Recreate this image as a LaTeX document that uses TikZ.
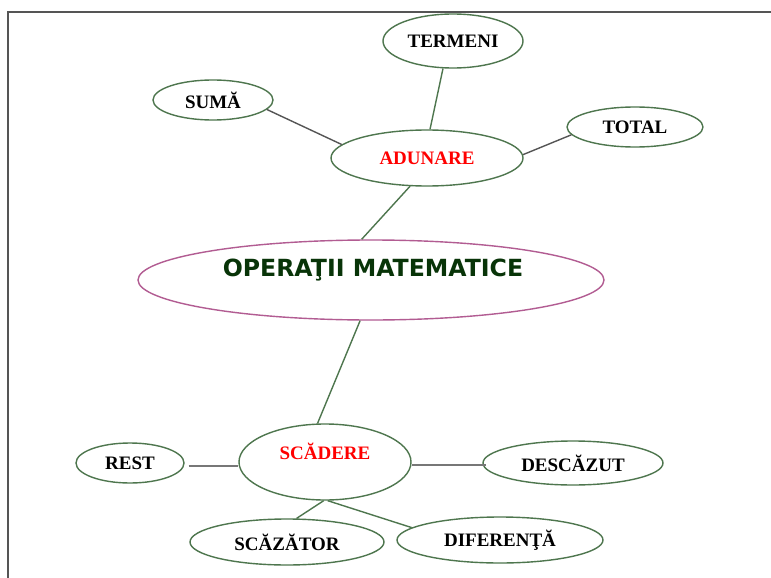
\documentclass[tikz,border=0pt]{standalone}
\usepackage{fontspec}
\setmainfont{Liberation Serif}
\newfontfamily\headfont{DejaVu Sans}
\usetikzlibrary{shapes.geometric}
\definecolor{ringgreen}{RGB}{78,118,78}
\definecolor{linegray}{RGB}{85,85,85}
\definecolor{rootring}{RGB}{178,92,146}
\definecolor{roottext}{RGB}{8,52,8}
\tikzset{
  bubble/.style={ellipse, draw=ringgreen, line width=1.4pt, fill=white, inner sep=0pt,
    font=\bfseries\fontsize{19}{19}\selectfont, text=black},
  rootbubble/.style={ellipse, draw=rootring, line width=1.4pt, fill=white, inner sep=0pt},
  roottitle/.style={font=\headfont\bfseries\fontsize{23.6}{24}\selectfont, text=roottext, inner sep=0pt},
  greenlink/.style={draw=ringgreen, line width=1.4pt},
  graylink/.style={draw=linegray, line width=1.4pt},
  heavylink/.style={draw=linegray!80, line width=2.2pt},
  frameline/.style={draw=linegray, line width=1.6pt}
}
\begin{document}
\begin{tikzpicture}[x=1pt,y=-1pt]
\useasboundingbox (0,0) rectangle (771,578);
\fill[white] (0,0) rectangle (771,578);

% page frame
\coordinate (fa) at (8,578);
\coordinate (fb) at (8,12);
\coordinate (fc) at (771,12);
\draw[frameline] (fa) -- (fb) -- (fc);

% central concept
\node[rootbubble, minimum width=466pt, minimum height=80pt] (root) at (371,280) {};
\node[roottitle] (roottxt) at (373,270) {OPERAŢII MATEMATICE};

% addition branch
\node[bubble, minimum width=192pt, minimum height=56pt] (adunare) at (427,158) {\textcolor{red}{ADUNARE}};
\node[bubble, minimum width=140pt, minimum height=54pt] (termeni) at (453,41) {TERMENI};
\node[bubble, minimum width=120pt, minimum height=40pt] (suma) at (213,100) {SUMĂ};
\node[bubble, minimum width=136pt, minimum height=40pt] (total) at (635,127) {TOTAL};

% subtraction branch
\node[bubble, minimum width=172pt, minimum height=76pt] (scadere) at (325,462) {};
\node[font=\bfseries\fontsize{19}{19}\selectfont, text=red, inner sep=0pt] (scaderetxt) at (325,451) {SCĂDERE};
\node[bubble, minimum width=108pt, minimum height=40pt] (rest) at (130,463) {REST};
\node[bubble, minimum width=180pt, minimum height=44pt] (descazut) at (573,463) {DESCĂZUT};
\node[bubble, minimum width=194pt, minimum height=46pt] (scazator) at (287,542) {SCĂZĂTOR};
\node[bubble, minimum width=206pt, minimum height=46pt] (diferenta) at (500,540) {DIFERENŢĂ};

% links of the addition branch
\draw[greenlink] (termeni.250) -- (adunare.84);
\draw[graylink] (suma.-10) -- (adunare.171);
\draw[graylink] (total.187) -- (adunare.2);
\draw[greenlink] (adunare.239) -- (root.103);

% links of the subtraction branch
\draw[greenlink] (root.255) -- (scadere.101);
\draw[heavylink] ([xshift=4pt,yshift=-3pt]rest.east) -- ([yshift=-3pt]rest.east -| scadere.west);
\draw[heavylink] ([yshift=-3pt]scadere.east) -- ([xshift=4pt,yshift=-3pt]scadere.east -| descazut.west);
\draw[greenlink] (scadere.268) -- (scazator.68);
\draw[greenlink] (scadere.274) -- (diferenta.172);
\end{tikzpicture}
\end{document}
